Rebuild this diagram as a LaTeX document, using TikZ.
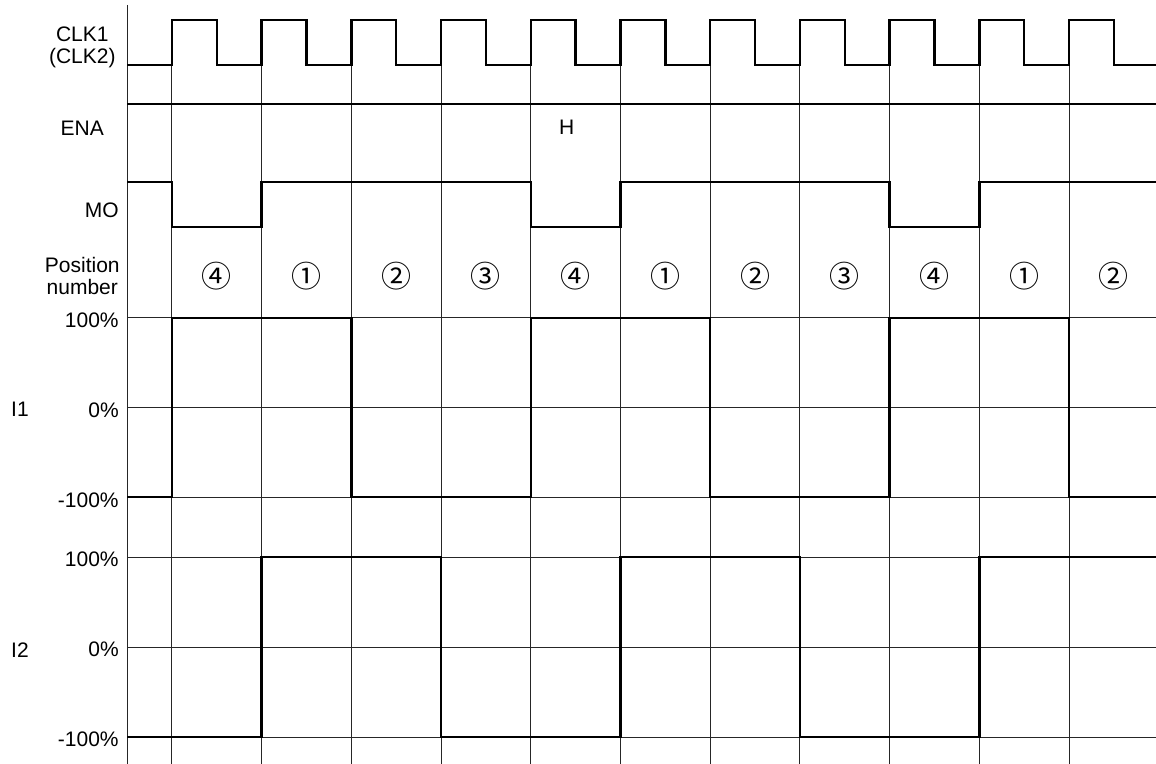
\documentclass[tikz,border=0pt]{standalone}
\usepackage{fontspec}
\setmainfont{Liberation Sans}
\newfontfamily\circfont{Noto Sans CJK JP}
\usetikzlibrary{positioning}

\begin{document}
\begin{tikzpicture}[
  x=44.85pt, y=-0.5pt,
  sig/.style={line width=1.2pt, black, line join=miter},
  gridline/.style={line width=0.5pt, black!85},
  lbl/.style={font=\fontsize{10.5}{11}\selectfont, align=center, inner sep=0pt},
  pct/.style={lbl, anchor=east},
  posnum/.style={font=\circfont\fontsize{15}{15}\selectfont, inner sep=0pt},
]
\useasboundingbox (-1.9175,0) rectangle (10.97,764);

%% ---- Grid ----
\draw[gridline] (-0.5,5) -- (-0.5,764);
\foreach \k in {0,...,10}
  \draw[gridline] (\k,65) -- (\k,764);
\foreach \y in {318,408,497,557,647,737}
  \draw[gridline] (-0.5,\y) -- (10.97,\y);

%% ---- Signal names ----
\node[lbl] (clk) at (-1,47) {CLK1\\(CLK2)};
\node[lbl] (ena) at (-1,128.5) {ENA};
\node[lbl, anchor=east] (mo) at (-0.59,210) {MO};
\node[lbl] (pos) at (-1,276) {Position\\number};
\node[lbl] (i1) at (-1.695,409.5) {I1};
\node[lbl] (i2) at (-1.695,650) {I2};

%% current levels
\node[pct] (i1hi)  at (-0.59,320.5) {100\%};
\node[pct] (i1mid) at (-0.59,410) {0\%};
\node[pct] (i1lo)  at (-0.59,500) {-100\%};
\node[pct] (i2hi)  at (-0.59,559.5) {100\%};
\node[pct] (i2mid) at (-0.59,649.5) {0\%};
\node[pct] (i2lo)  at (-0.59,739) {-100\%};

%% ---- Clock ----
\draw[sig] (-0.5,65)
  \foreach \k in {0,...,10}{ -| (\k,20) -| ({\k+0.5},65) } -- (10.97,65);

%% ---- ENA (held high) ----
\draw[sig] (-0.5,104) -- (10.97,104);
\node[lbl] (enah) at (4.40,127.5) {H};

%% ---- MO ----
\draw[sig] (-0.5,182) -| (0,227) -| (1,182) -| (4,227) -| (5,182)
  -| (8,227) -| (9,182) -- (10.97,182);

%% ---- Position numbers ----
\foreach \k/\d in {0/④,1/①,2/②,3/③,4/④,5/①,6/②,7/③,8/④,9/①,10/②}
  \node[posnum] (pos\k) at ({\k+0.5},276) {\d};

%% ---- Phase currents ----
\draw[sig] (-0.5,497) -| (0,318) -| (2,497) -| (4,318) -| (6,497)
  -| (8,318) -| (10,497) -- (10.97,497);
\draw[sig] (-0.5,737) -| (1,557) -| (3,737) -| (5,557) -| (7,737)
  -| (9,557) -- (10.97,557);

\end{tikzpicture}
\end{document}
